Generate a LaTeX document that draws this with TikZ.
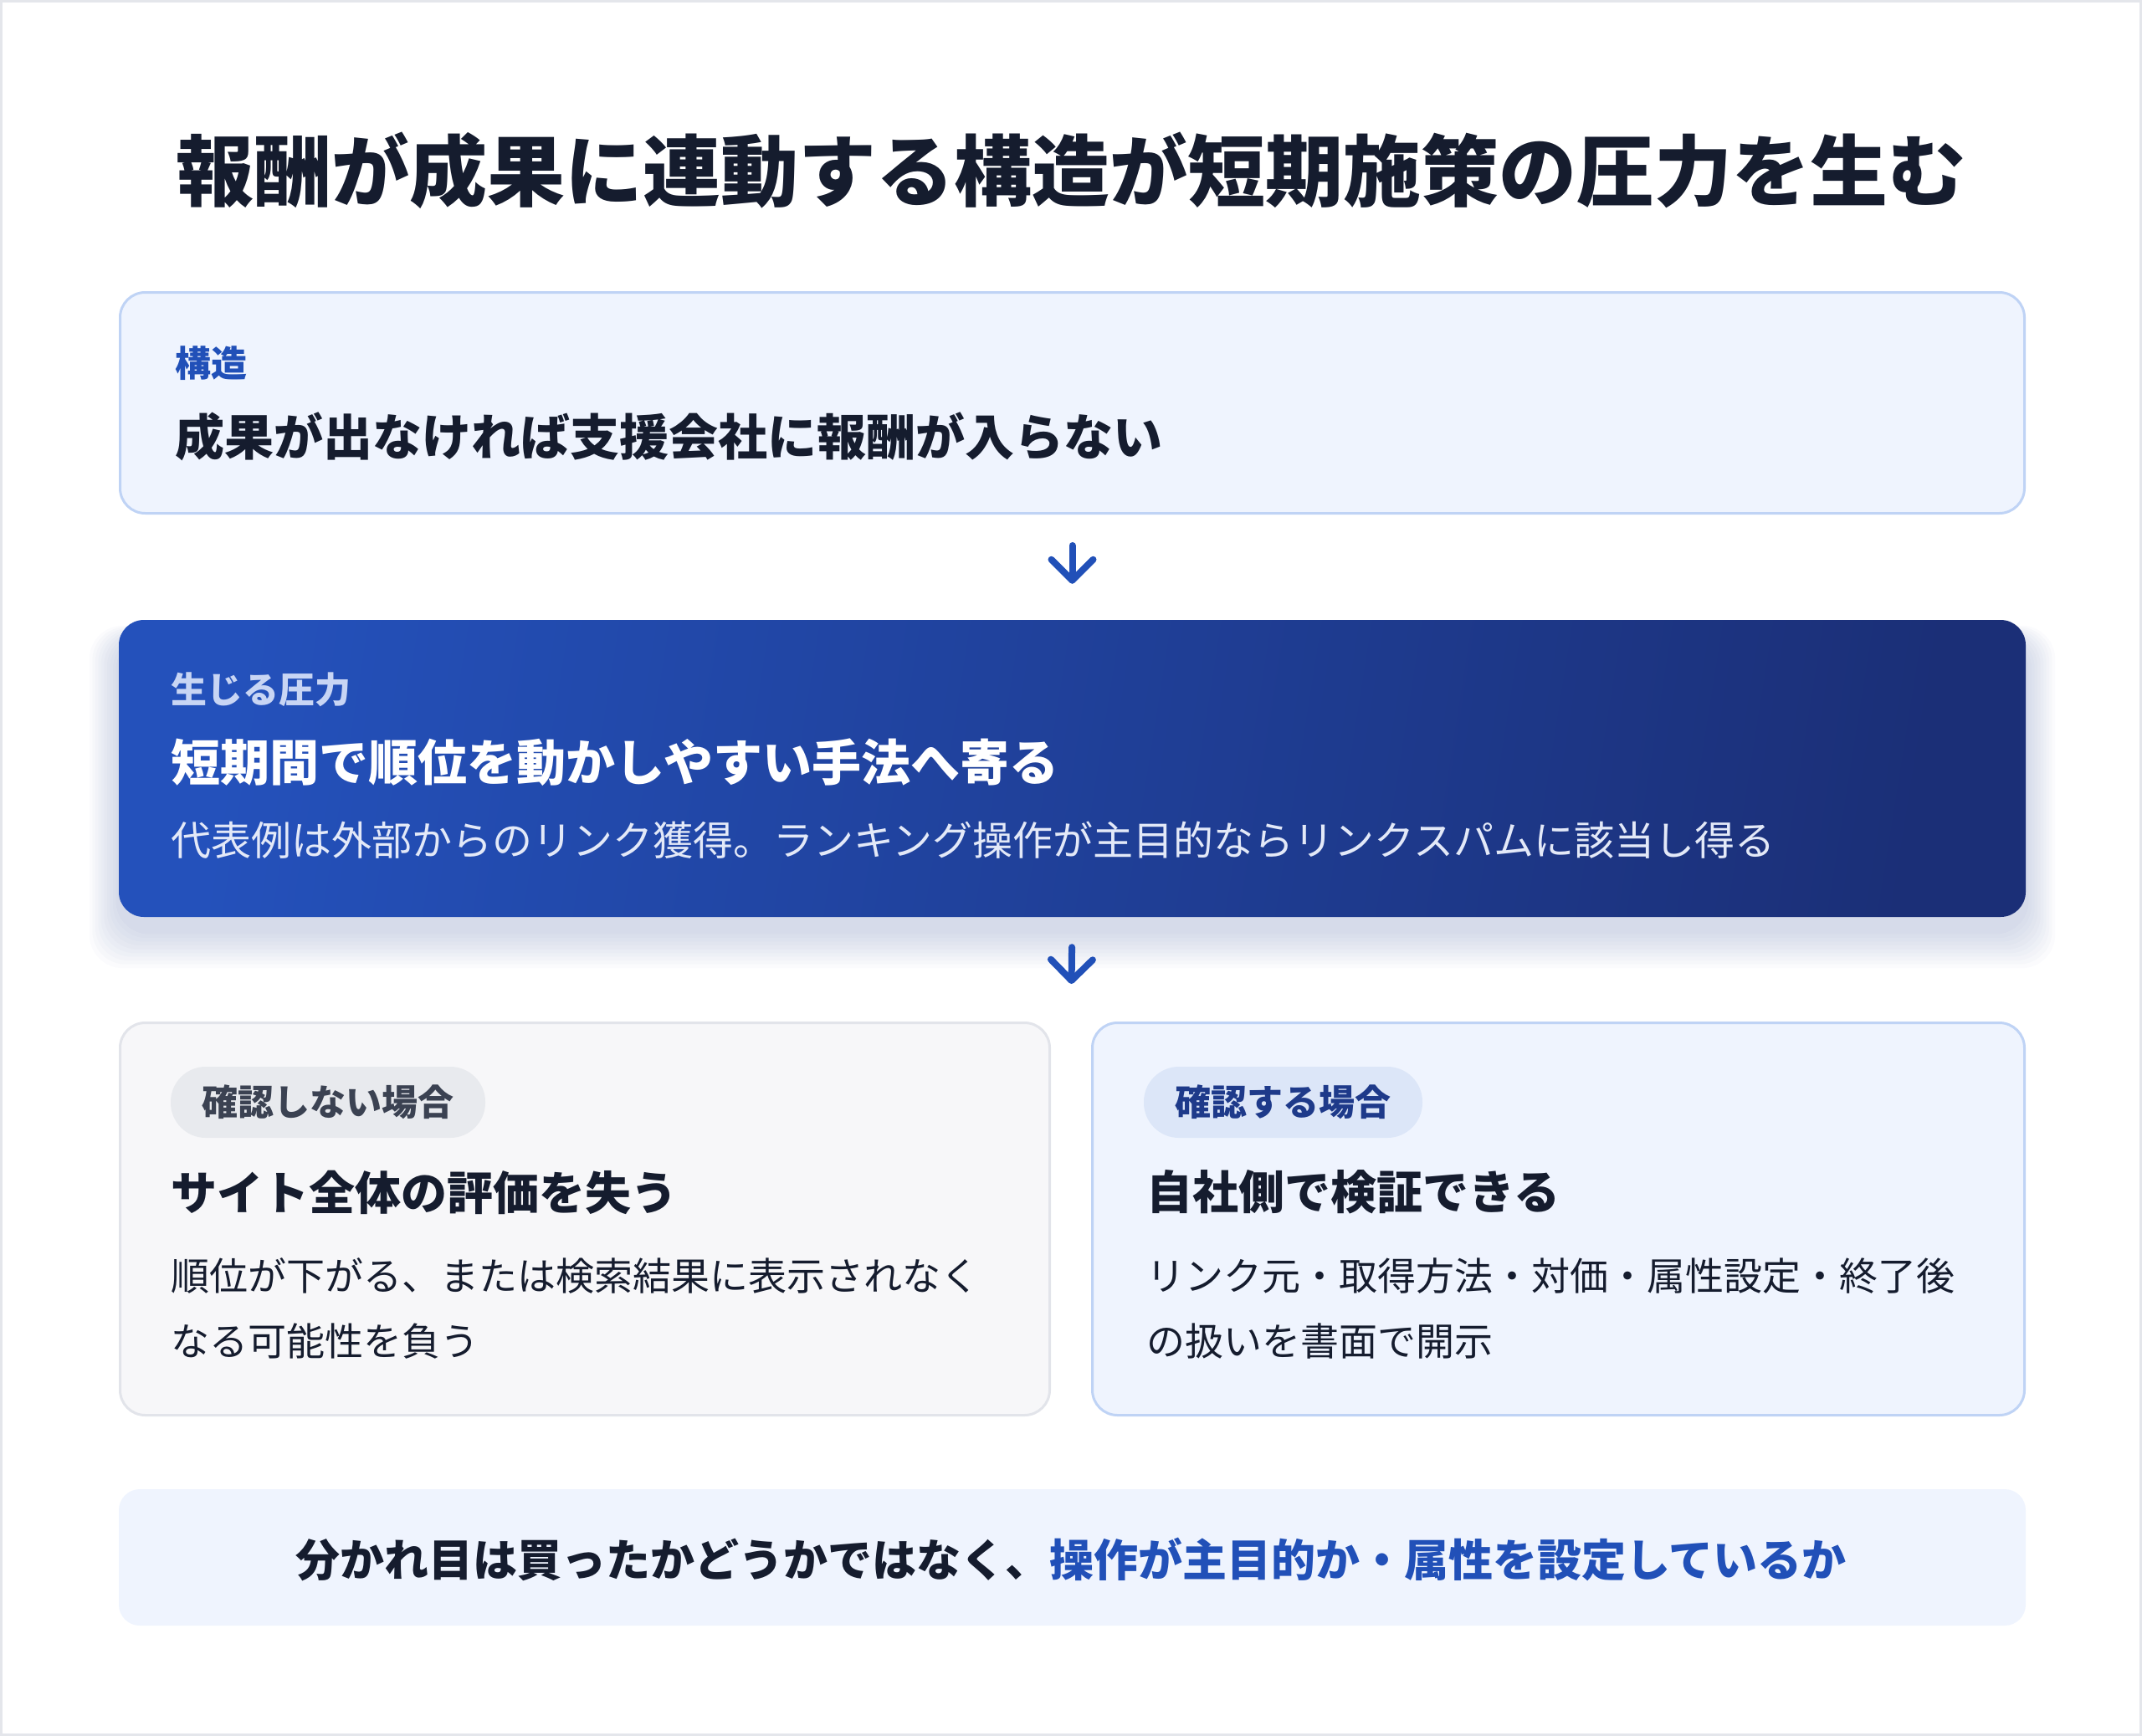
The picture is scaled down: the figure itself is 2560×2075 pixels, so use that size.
\documentclass[tikz,border=0pt]{standalone}
\usepackage{fontspec}
\setmainfont{Noto Sans CJK JP}
\usepackage{tikz}
\usetikzlibrary{arrows.meta,backgrounds}
\definecolor{ink}{HTML}{151C2E}
\definecolor{accent}{HTML}{2150B8}
\definecolor{cardfill}{HTML}{EFF4FE}
\definecolor{cardline}{HTML}{BFD3F5}
\definecolor{grayfill}{HTML}{F7F7F9}
\definecolor{grayline}{HTML}{E2E4EA}
\definecolor{graypill}{HTML}{E8EAEE}
\definecolor{graytext}{HTML}{3B4252}
\definecolor{bluepill}{HTML}{DCE6F8}
\definecolor{bluetext}{HTML}{1E3A8A}
\definecolor{gradA}{HTML}{2451BB}
\definecolor{gradB}{HTML}{1B2F77}
\definecolor{softtag}{HTML}{C8D5F4}
\definecolor{softbody}{HTML}{E3E9F8}
\definecolor{haze}{HTML}{1E3A8A}
\definecolor{frame}{HTML}{E4E6EB}
\def\sz#1{\fontsize{#1pt}{#1pt}\selectfont}

\begin{document}
\begin{tikzpicture}[>={Straight Barb[length=25pt,width=50pt,line cap=round,line join=round]}, card/.style={draw=cardline, line width=3pt, fill=cardfill, rounded corners=30pt, inner sep=0pt}, graycard/.style={card, draw=grayline, fill=grayfill}, pill/.style={rounded corners=42pt, minimum height=85pt, inner sep=0pt, font=\sz{43}\bfseries}, tag/.style={anchor=west, inner sep=0pt, font=\sz{43}\bfseries, text=accent}, headline/.style={anchor=west, inner sep=0pt, font=\sz{59}\bfseries, text=ink}, bodytext/.style={anchor=west, inner sep=0pt, font=\sz{46}, text=ink}, flow/.style={->, draw=accent, line width=8pt, line cap=round}]
\useasboundingbox (0pt, 0pt) rectangle (2560pt, -2075pt);
\draw[frame, line width=3pt] (1.5pt, -1.5pt) rectangle (2558.5pt, -2073.5pt);
\draw (1280.0pt, -204.0pt)node[inner sep=0pt, font=\sz{93}\bfseries, text=ink](heading){報酬が成果に連動する構造が短期施策の圧力を生む};
\draw (1281.5pt, -481.5pt)node[card, minimum width=2276pt, minimum height=264pt](top){};
\draw (209.0pt, -434.0pt)node[tag](toptag){構造};
\draw (209.0pt, -522.0pt)node[headline](tophead){成果が出なければ支援会社に報酬が入らない};
\draw (1281.5pt, -918.5pt)node[minimum width=2279pt, minimum height=355pt, rounded corners=30pt, left color=gradA, right color=gradB, shading angle=81](press){};
\draw (204.0pt, -824.0pt)node[tag, text=softtag](presstag){生じる圧力};
\draw (204.0pt, -911.0pt)node[headline, text=white](presshead){短期間で順位を動かしやすい手法へ寄る};
\draw (204.0pt, -1004.0pt)node[bodytext, font=\sz{48}, text=softbody](pressbody){代表例は外部からのリンク獲得。ランキング操作が主目的ならリンクスパムに該当し得る};
\begin{scope}[on background layer]
\foreach \s in {1,...,10}
  \fill[haze, opacity=0.018, rounded corners=40pt] ([xshift=-\s*3.5pt, yshift=-16pt-\s*4.5pt]press.south west) rectangle ([xshift=\s*3.5pt, yshift=-22pt+\s*1.5pt]press.north east);
\end{scope}
\draw (699.0pt, -1457.0pt)node[graycard, minimum width=1111pt, minimum height=469pt](skip){};
\draw (392.0pt, -1317.5pt)node[pill, fill=graypill, text=graytext, minimum width=376pt](skippill){確認しない場合};
\draw (204.0pt, -1425.0pt)node[headline, font=\sz{55}\bfseries](skiphead){サイト全体の評価を失う};
\draw (204.0pt, -1525.0pt)node[bodytext](skipline1){順位が下がる、または検索結果に表示されなく};
\draw (204.0pt, -1603.0pt)node[bodytext](skipline2){なる可能性を負う};
\draw (1862.5pt, -1457.0pt)node[card, minimum width=1114pt, minimum height=469pt](check){};
\draw (1533.5pt, -1317.5pt)node[pill, fill=bluepill, text=bluetext, minimum width=333pt](checkpill){確認する場合};
\draw (1370.0pt, -1425.0pt)node[headline, font=\sz{55}\bfseries](checkhead){自社側で検証できる};
\draw (1370.0pt, -1525.0pt)node[bodytext](checkline1){リンク元・取得方法・対価・属性設定・終了後};
\draw (1370.0pt, -1603.0pt)node[bodytext](checkline2){の扱いを書面で開示};
\draw (1281.5pt, -1861.5pt)node[fill=cardfill, rounded corners=25pt, minimum width=2279pt, minimum height=163pt](note){};
\draw (1280.0pt, -1864.0pt)node[inner sep=0pt, font=\sz{53}\bfseries, text=ink](notetext){分かれ目は買ったかどうかではなく、\textcolor{accent}{操作が主目的か・属性を設定しているか}};
\coordinate (split) at (1280.0pt, -1221.0pt);
\draw[flow, shorten <=37pt, shorten >=43pt] (top.south) -- (press.north);
\draw[flow, shorten <=36pt, shorten >=45pt] (press.south) -- (split);
\end{tikzpicture}
\end{document}
